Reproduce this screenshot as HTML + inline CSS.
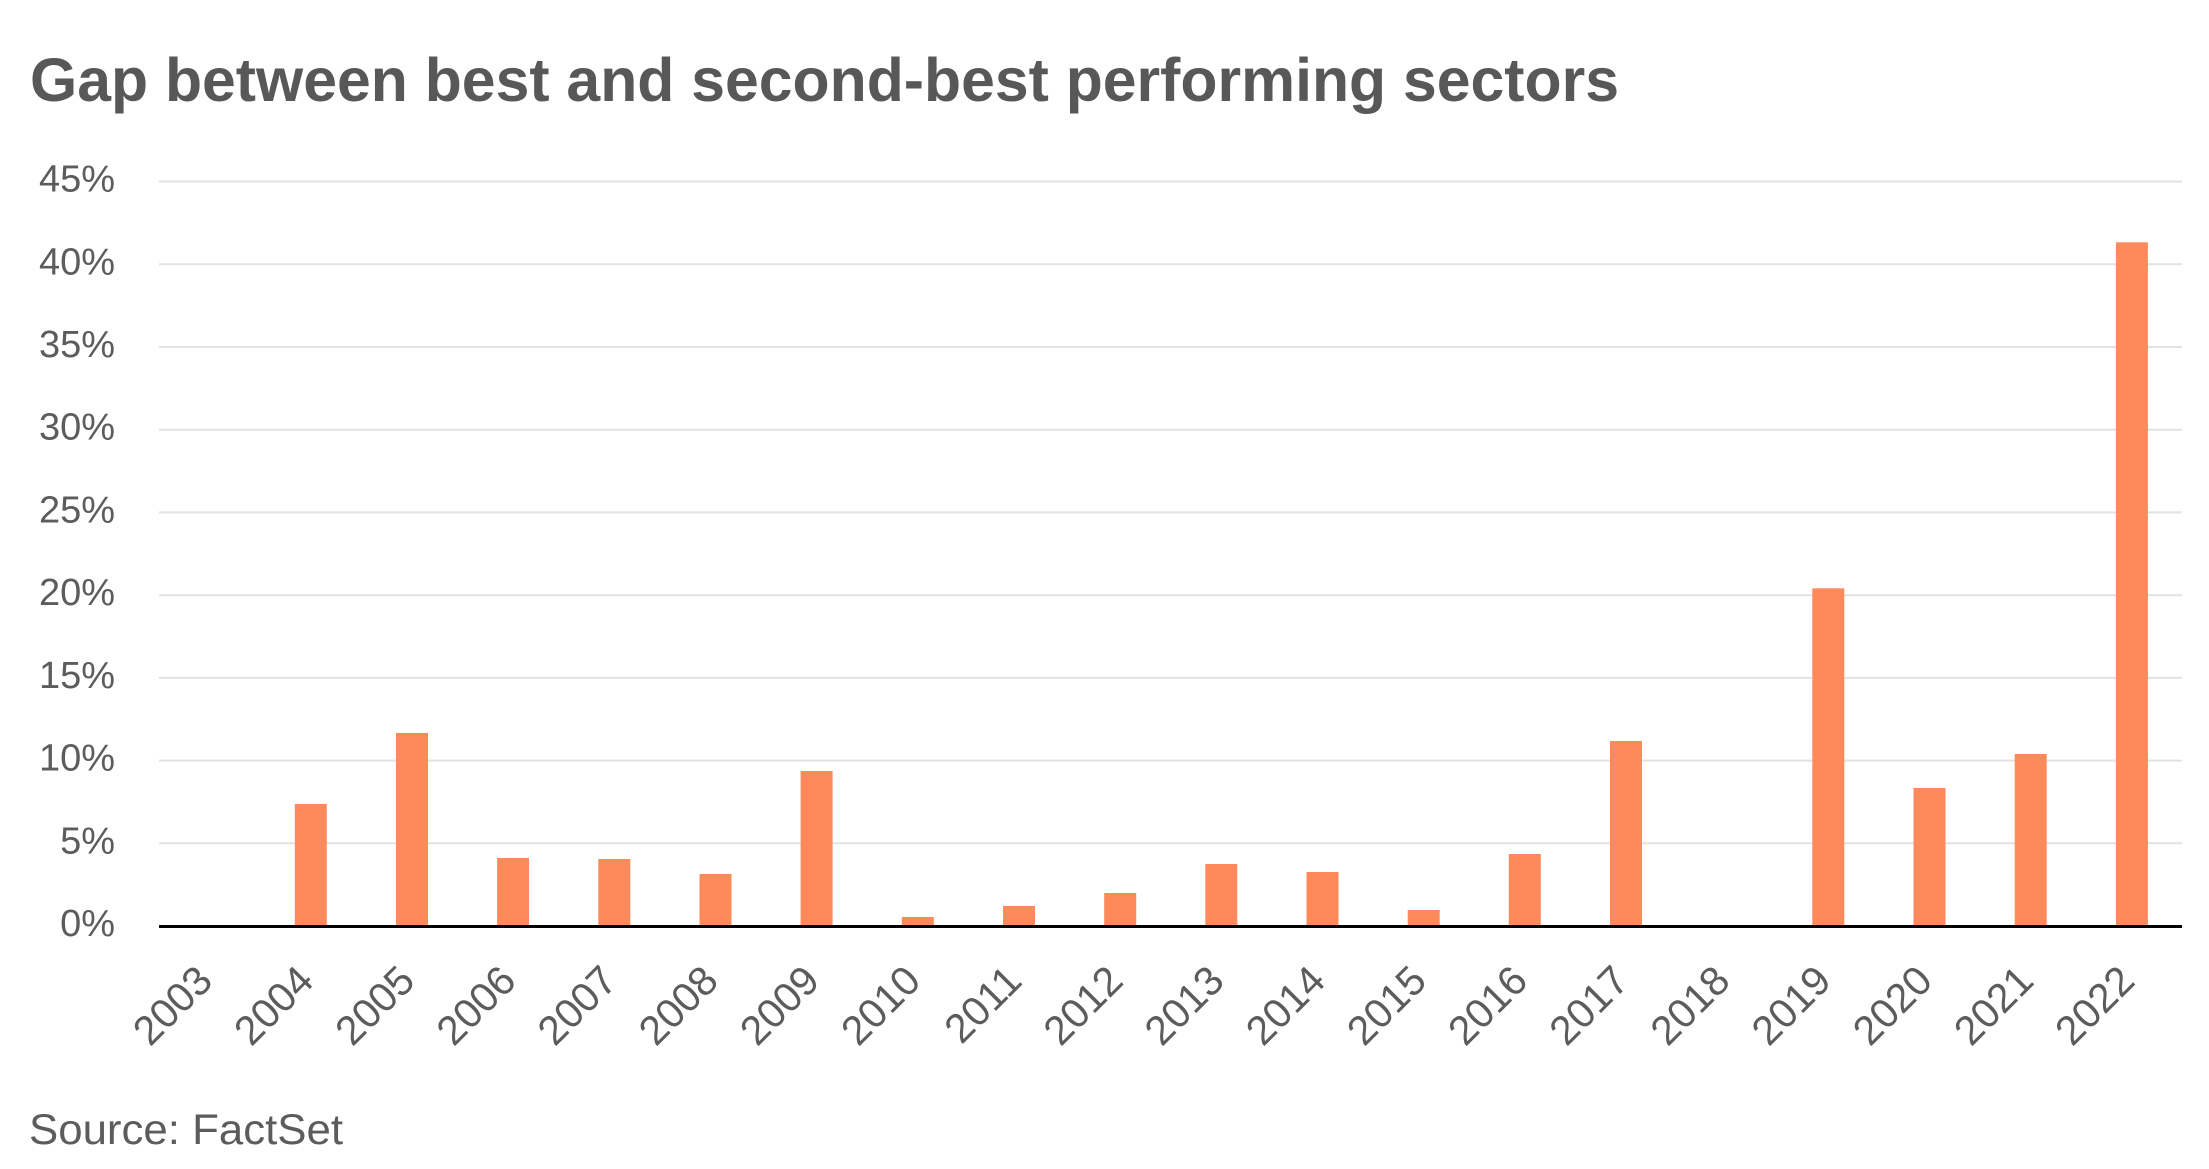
<!DOCTYPE html>
<html>
<head>
<meta charset="utf-8">
<style>
  html, body { margin: 0; padding: 0; background: #ffffff; }
  svg { display: block; }
  text { font-family: "Liberation Sans", "DejaVu Sans", sans-serif; }
</style>
</head>
<body>
<svg width="2209" height="1169" viewBox="0 0 2209 1169" xmlns="http://www.w3.org/2000/svg">
  <rect x="0" y="0" width="2209" height="1169" fill="#ffffff"/>

  <!-- Title -->
  <text x="30" y="101" font-size="61" font-weight="bold" fill="#585858" textLength="1589" lengthAdjust="spacingAndGlyphs">Gap between best and second-best performing sectors</text>

  <!-- Gridlines -->
  <g stroke="#e2e2e2" stroke-width="2">
    <line x1="159" y1="181.5" x2="2182" y2="181.5"/>
    <line x1="159" y1="264.3" x2="2182" y2="264.3"/>
    <line x1="159" y1="347.0" x2="2182" y2="347.0"/>
    <line x1="159" y1="429.7" x2="2182" y2="429.7"/>
    <line x1="159" y1="512.4" x2="2182" y2="512.4"/>
    <line x1="159" y1="595.2" x2="2182" y2="595.2"/>
    <line x1="159" y1="677.9" x2="2182" y2="677.9"/>
    <line x1="159" y1="760.6" x2="2182" y2="760.6"/>
    <line x1="159" y1="843.3" x2="2182" y2="843.3"/>
  </g>

  <!-- Y axis labels -->
  <g font-size="38" fill="#5c5c5c" text-anchor="end">
    <text x="115" y="191.5">45%</text>
    <text x="115" y="274.3">40%</text>
    <text x="115" y="357.0">35%</text>
    <text x="115" y="439.7">30%</text>
    <text x="115" y="522.4">25%</text>
    <text x="115" y="605.2">20%</text>
    <text x="115" y="687.9">15%</text>
    <text x="115" y="770.6">10%</text>
    <text x="115" y="853.3">5%</text>
    <text x="115" y="936.0">0%</text>
  </g>

  <!-- Bars -->
  <g fill="#fd8a5b">
    <rect x="294.8" y="804" width="32" height="122"/>
    <rect x="396.0" y="733" width="32" height="193"/>
    <rect x="497.1" y="858" width="32" height="68"/>
    <rect x="598.3" y="859" width="32" height="67"/>
    <rect x="699.5" y="874" width="32" height="52"/>
    <rect x="800.6" y="771" width="32" height="155"/>
    <rect x="901.8" y="917" width="32" height="9"/>
    <rect x="1003.0" y="906" width="32" height="20"/>
    <rect x="1104.2" y="893" width="32" height="33"/>
    <rect x="1205.3" y="864" width="32" height="62"/>
    <rect x="1306.5" y="872" width="32" height="54"/>
    <rect x="1407.7" y="910" width="32" height="16"/>
    <rect x="1508.8" y="854" width="32" height="72"/>
    <rect x="1610.0" y="741" width="32" height="185"/>
    <rect x="1812.3" y="588.3" width="32" height="337.7"/>
    <rect x="1913.5" y="788" width="32" height="138"/>
    <rect x="2014.7" y="754" width="32" height="172"/>
    <rect x="2115.9" y="242.3" width="32" height="683.7"/>
  </g>

  <!-- Baseline -->
  <line x1="159" y1="926.5" x2="2182" y2="926.5" stroke="#000000" stroke-width="3"/>

  <!-- X axis labels -->
  <g font-size="41" fill="#5c5c5c" text-anchor="end">
    <text transform="translate(214.6,983) rotate(-45)">2003</text>
    <text transform="translate(315.8,983) rotate(-45)">2004</text>
    <text transform="translate(416.9,983) rotate(-45)">2005</text>
    <text transform="translate(518.1,983) rotate(-45)">2006</text>
    <text transform="translate(619.3,983) rotate(-45)">2007</text>
    <text transform="translate(720.4,983) rotate(-45)">2008</text>
    <text transform="translate(821.6,983) rotate(-45)">2009</text>
    <text transform="translate(922.8,983) rotate(-45)">2010</text>
    <text transform="translate(1023.9,983) rotate(-45)">2011</text>
    <text transform="translate(1125.1,983) rotate(-45)">2012</text>
    <text transform="translate(1226.3,983) rotate(-45)">2013</text>
    <text transform="translate(1327.5,983) rotate(-45)">2014</text>
    <text transform="translate(1428.6,983) rotate(-45)">2015</text>
    <text transform="translate(1529.8,983) rotate(-45)">2016</text>
    <text transform="translate(1631.0,983) rotate(-45)">2017</text>
    <text transform="translate(1732.1,983) rotate(-45)">2018</text>
    <text transform="translate(1833.3,983) rotate(-45)">2019</text>
    <text transform="translate(1934.5,983) rotate(-45)">2020</text>
    <text transform="translate(2035.6,983) rotate(-45)">2021</text>
    <text transform="translate(2136.8,983) rotate(-45)">2022</text>
  </g>

  <!-- Source -->
  <text x="29" y="1144" font-size="43" fill="#5c5c5c" textLength="314" lengthAdjust="spacingAndGlyphs">Source: FactSet</text>
</svg>
</body>
</html>
